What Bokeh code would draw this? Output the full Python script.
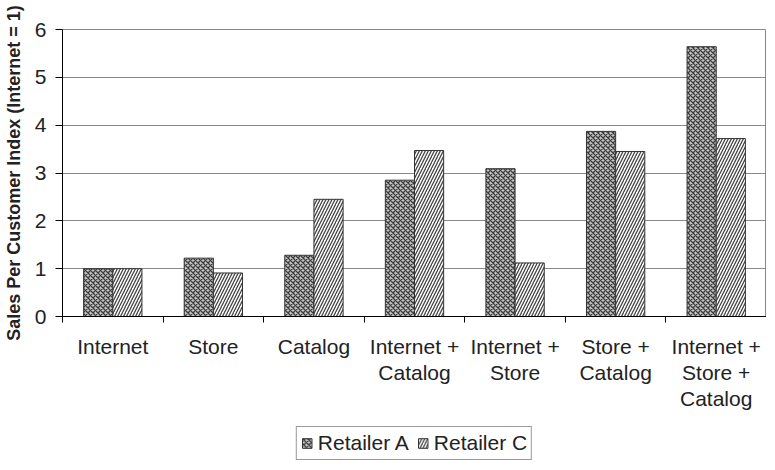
from bokeh.plotting import figure
from bokeh.layouts import column
from bokeh.models import ColumnDataSource, FixedTicker, Legend, LegendItem, Range1d
from bokeh.embed import file_html
from bokeh.resources import INLINE

categories = ["Internet", "Store", "Catalog", "Internet +\nCatalog", "Internet +\nStore",
              "Store +\nCatalog", "Internet +\nStore +\nCatalog"]
retailer_a = [1.0, 1.22, 1.28, 2.85, 3.09, 3.87, 5.64]
retailer_c = [1.0, 0.91, 2.45, 3.47, 1.12, 3.45, 3.72]
series_names = ["Retailer A", "Retailer C"]
y_ticks = [0, 1, 2, 3, 4, 5, 6]

FONT = "Liberation Sans"
TXT = "#222222"
W = 766
bar_w = 0.29
centers = [i + 0.5 for i in range(len(categories))]
bounds = [i for i in range(len(categories) + 1)]

style_a = dict(fill_color="#c4c4c4", hatch_pattern="diagonal_cross", hatch_color="#3c3c3c",
               hatch_scale=5, hatch_weight=1.3, line_color="#333333", line_width=1)
style_c = dict(fill_color="white", hatch_pattern="right_diagonal_line", hatch_color="#444444",
               hatch_scale=6, hatch_weight=1.3, line_color="#333333", line_width=1)

src = ColumnDataSource(dict(
    xa=[c - bar_w / 2 for c in centers],
    xc=[c + bar_w / 2 for c in centers],
    a=retailer_a, c=retailer_c))

fig = figure(width=W, height=425, output_backend="svg", toolbar_location=None,
             x_range=Range1d(0, len(categories)), y_range=Range1d(0, 6),
             min_border_left=56, min_border_right=0, min_border_top=29, min_border_bottom=109)
fig.background_fill_color = "white"
fig.border_fill_color = "white"
fig.outline_line_color = "#888888"

fig.vbar(x="xa", top="a", width=bar_w, source=src, **style_a)
fig.vbar(x="xc", top="c", width=bar_w, source=src, **style_c)

# x axis: labels at category centers, tick marks at category boundaries
fig.xaxis.ticker = FixedTicker(ticks=centers, minor_ticks=bounds)
fig.xaxis.major_label_overrides = {c: lab for c, lab in zip(centers, categories)}
fig.xaxis.major_tick_line_color = None
fig.xaxis.minor_tick_line_color = "black"
fig.xaxis.minor_tick_out = 6
fig.xaxis.minor_tick_in = 0
fig.xaxis.axis_line_color = "black"
fig.xaxis.major_label_text_font = FONT
fig.xaxis.major_label_text_font_size = "21px"
fig.xaxis.major_label_text_line_height = 1.15
fig.xaxis.major_label_text_color = TXT
fig.xaxis.major_label_standoff = 12
fig.xaxis.major_label_orientation = "horizontal"

fig.yaxis.ticker = FixedTicker(ticks=y_ticks)
fig.yaxis.minor_tick_line_color = None
fig.yaxis.major_tick_out = 7
fig.yaxis.major_tick_in = 0
fig.yaxis.axis_line_color = "black"
fig.yaxis.major_label_text_font = FONT
fig.yaxis.major_label_text_font_size = "21px"
fig.yaxis.major_label_text_color = TXT
fig.yaxis.major_label_standoff = 9
fig.yaxis.axis_label = "Sales Per Customer Index (Internet = 1)"
fig.yaxis.axis_label_text_font = FONT
fig.yaxis.axis_label_text_font_style = "bold"
fig.yaxis.axis_label_text_font_size = "18px"
fig.yaxis.axis_label_text_color = TXT
fig.yaxis.axis_label_standoff = 8

fig.xgrid.grid_line_color = None
fig.ygrid.ticker = FixedTicker(ticks=y_ticks)
fig.ygrid.grid_line_color = "#888888"
fig.ygrid.grid_line_width = 1

# legend strip below the chart (bars from the same data, kept out of view by the y range)
leg = figure(width=W, height=35, output_backend="svg", toolbar_location=None,
             x_range=Range1d(0, len(categories)), y_range=Range1d(100, 101),
             min_border_left=0, min_border_right=0, min_border_top=0, min_border_bottom=0)
leg.axis.visible = False
leg.grid.grid_line_color = None
leg.outline_line_color = None
la = leg.vbar(x="xa", top="a", width=bar_w, source=src, **style_a)
lc = leg.vbar(x="xc", top="c", width=bar_w, source=src, **style_c)
legend = Legend(items=[LegendItem(label=series_names[0], renderers=[la], index=0),
                       LegendItem(label=series_names[1], renderers=[lc], index=0)],
                orientation="horizontal", location="center",
                border_line_color="#333333", border_line_width=1,
                label_text_font=FONT, label_text_font_size="21px",
                label_text_color=TXT, glyph_width=12, glyph_height=12,
                label_standoff=5, spacing=8, padding=4, margin=0,
                label_height=22)
leg.add_layout(legend, "center")

p = column(fig, leg, spacing=0)

open("out.html", "w").write(file_html(p, INLINE))
